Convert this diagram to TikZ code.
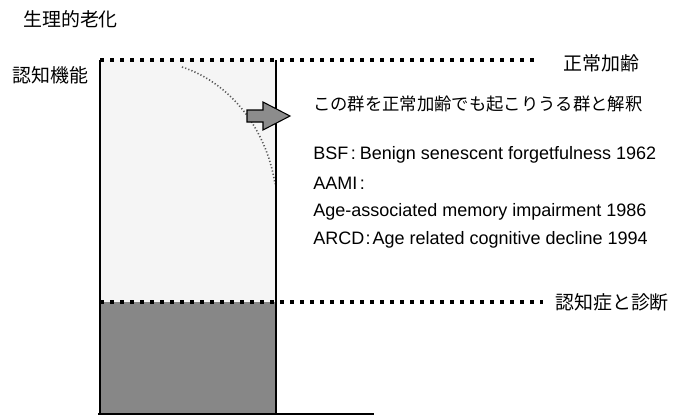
\documentclass[tikz,border=0pt]{standalone}
\usepackage{fontspec}
\setmainfont{Liberation Sans}
\newfontfamily\jp{Noto Sans CJK JP}
\begin{document}
\begin{tikzpicture}[x=0.75pt,y=-0.75pt,
  sqdots/.style={line width=3pt,dash pattern=on 3pt off 4.5pt},
  side/.style={line width=1pt},
  lbl/.style={anchor=west,inner sep=0pt,font=\jp\fontsize{14.2}{17}\selectfont},
  body/.style={anchor=west,inner sep=0pt,font=\fontsize{13.5}{16}\selectfont},
  arrowfill/.style={fill=black!45,draw=black,line width=0.8pt}]
\useasboundingbox (0,0) rectangle (675,418);
% light upper area
\fill[black!4] (100,60) rectangle (276,302);
% dark lower area
\fill[black!47] (100,302) rectangle (276,414);
% dotted quarter curve
\draw[black!65,line width=1.2pt,dash pattern=on 0.9pt off 1.6pt]
  (182,67) .. controls (228,82) and (266,126) .. (275,184);
% sides
\draw[side] (100,60) -- (100,414);
\draw[side] (276,60) -- (276,414);
% bottom axis
\coordinate (ax0) at (98,414);
\coordinate (ax1) at (374,414);
\draw[line width=1.4pt] (ax0) -- (ax1);
% dotted level lines
\coordinate (t0) at (100,60);
\coordinate (t1) at (537,60);
\coordinate (b0) at (100,302);
\coordinate (b1) at (543,302);
\draw[sqdots] (t0) -- (t1);
\draw[sqdots] (b0) -- (b1);
% arrow
\draw[arrowfill] (247,110) -- (263,110) -- (263,102) -- (290,116) -- (263,130) -- (263,122) -- (247,122) -- cycle;
% texts
\node[lbl] (title) at (23,19) {生理的老化};
\node[lbl] (cog) at (12,75) {認知機能};
\node[lbl] (normal) at (563,63) {正常加齢};
\node[lbl] (dem) at (555,302) {認知症と診断};
\node[anchor=west,inner sep=0pt,font=\jp\fontsize{13}{16}\selectfont] (interp) at (313,104) {この群を正常加齢でも起こりうる群と解釈};
\node[body] (bsf) at (313,155) {BSF\kern2pt:\kern3pt Benign senescent forgetfulness 1962};
\node[body] (aami) at (313,183) {AAMI\kern2pt:};
\node[body] (age) at (313,212) {Age-associated memory impairment 1986};
\node[body] (arcd) at (313,240) {ARCD\kern1pt:\kern1.5pt Age related cognitive decline 1994};
\end{tikzpicture}
\end{document}
